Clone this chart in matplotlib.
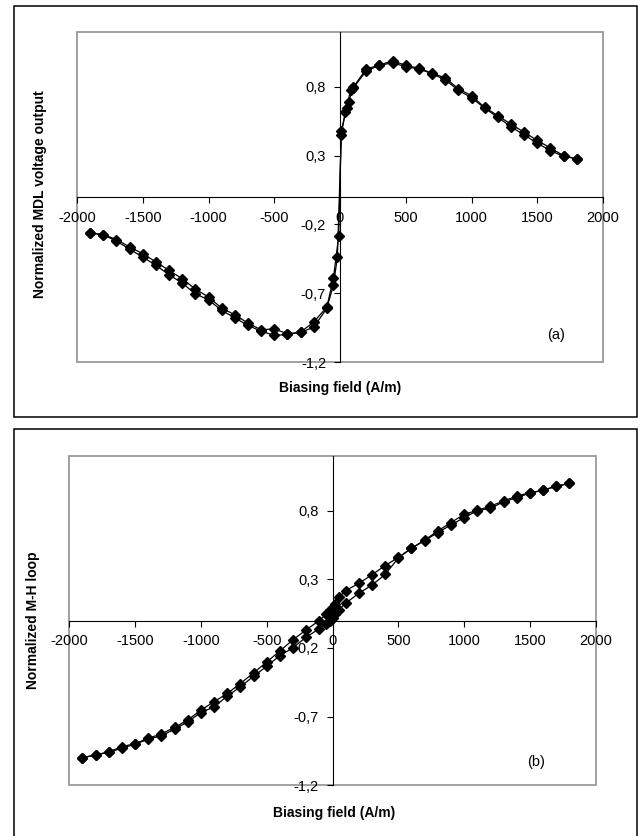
import matplotlib
matplotlib.use("Agg")
import matplotlib.pyplot as plt
from matplotlib.patches import Rectangle

plt.rcParams['font.family'] = ['Liberation Sans', 'DejaVu Sans']

# ---------------- data ----------------
neg_x = [-1900, -1800, -1700, -1600, -1500, -1400, -1300, -1200, -1100, -1000,
         -900, -800, -700, -600, -500, -400, -300, -200, -100]
pos_x = [200, 300, 400, 500, 600, 700, 800, 900, 1000, 1100, 1200, 1300,
         1400, 1500, 1600, 1700, 1800]

# (a) MDL voltage output, two branches
mdl_a_x = neg_x + [-50, -10, 10, 50, 80, 100] + pos_x
mdl_a_y = [-0.262, -0.274, -0.31, -0.364, -0.413, -0.473, -0.534, -0.595, -0.67, -0.728,
           -0.808, -0.857, -0.917, -0.966, -0.959, -0.995, -0.983, -0.91, -0.80,
           -0.59, -0.284, 0.48, 0.643, 0.776, 0.795,
           0.93, 0.957, 0.99, 0.955, 0.935, 0.898, 0.865, 0.785, 0.735, 0.65, 0.59,
           0.528, 0.47, 0.41, 0.355, 0.30, 0.276]
mdl_b_x = neg_x + [-50, -20, 10, 40, 65, 100] + pos_x
mdl_b_y = [-0.262, -0.278, -0.32, -0.381, -0.437, -0.498, -0.566, -0.626, -0.705, -0.748,
           -0.825, -0.879, -0.934, -0.976, -1.007, -1.0, -0.985, -0.947, -0.81,
           -0.64, -0.44, 0.453, 0.614, 0.69, 0.79,
           0.915, 0.955, 0.975, 0.945, 0.93, 0.895, 0.85, 0.775, 0.72, 0.645, 0.578,
           0.51, 0.45, 0.39, 0.335, 0.295, 0.276]

# (b) M-H loop, two branches
mh_x = neg_x + [-50, -20, 0, 20, 50, 100] + pos_x
mh_up_y = [-1.0, -0.978, -0.957, -0.918, -0.897, -0.857, -0.826, -0.778, -0.725, -0.652,
           -0.592, -0.531, -0.459, -0.382, -0.302, -0.222, -0.14, -0.068, 0.0,
           0.045, 0.075, 0.09, 0.12, 0.17, 0.218,
           0.27, 0.333, 0.40, 0.459, 0.527, 0.585, 0.652, 0.713, 0.773, 0.802, 0.833,
           0.87, 0.906, 0.93, 0.949, 0.978, 0.998]
mh_lo_y = [-1.0, -0.978, -0.96, -0.93, -0.9, -0.865, -0.838, -0.792, -0.737, -0.671,
           -0.628, -0.551, -0.483, -0.406, -0.333, -0.256, -0.198, -0.121, -0.06,
           -0.025, 0.0, 0.02, 0.045, 0.08, 0.126,
           0.198, 0.258, 0.335, 0.455, 0.525, 0.582, 0.64, 0.696, 0.749, 0.80, 0.816,
           0.865, 0.894, 0.928, 0.948, 0.978, 0.998]

x_ticks = [-2000, -1500, -1000, -500, 0, 500, 1000, 1500, 2000]
x_tick_labels = ['-2000', '-1500', '-1000', '-500', '0', '500', '1000', '1500', '2000']
y_ticks = [-1.2, -0.7, -0.2, 0.3, 0.8]
y_tick_labels = ['-1,2', '-0,7', '-0,2', '0,3', '0,8']

x_label = 'Biasing field (A/m)'
y_label_a = 'Normalized MDL voltage output'
y_label_b = 'Normalized M-H loop'

# ---------------- figure ----------------
W, H = 640, 836
fig = plt.figure(figsize=(W / 100, H / 100), dpi=100)


def fx(px):
    return px / W


def fy(py):
    return 1 - py / H


# outer frames
fig.patches.append(Rectangle((fx(14), fy(417)), fx(637) - fx(14), fy(6) - fy(417),
                             transform=fig.transFigure, fill=False, edgecolor='black',
                             linewidth=1.1, zorder=0))
fig.patches.append(Rectangle((fx(14), -0.02), fx(637) - fx(14), fy(429) + 0.02,
                             transform=fig.transFigure, fill=False, edgecolor='black',
                             linewidth=1.1, zorder=0))


def make_axes(rect, series, ylabel, tag, tag_pos, xlabel_pos, ylabel_pos):
    ax = fig.add_axes(rect)
    ax.set_xlim(-2000, 2000)
    ax.set_ylim(-1.2, 1.2)
    for xs, ys in series:
        ax.plot(xs, ys, color='black', linewidth=0.9, marker='D', markersize=4.6,
                markerfacecolor='black', markeredgecolor='black', clip_on=False, zorder=3)
    for s in ('top', 'right'):
        ax.spines[s].set_visible(False)
    ax.spines['left'].set_position(('data', 0))
    ax.spines['bottom'].set_position(('data', 0))
    for s in ('left', 'bottom'):
        ax.spines[s].set_color('black')
        ax.spines[s].set_linewidth(0.8)
    ax.add_patch(Rectangle((0, 0), 1, 1, transform=ax.transAxes, fill=False,
                           edgecolor='#9a9a9a', linewidth=1.3, zorder=1, clip_on=False))
    ax.set_xticks(x_ticks)
    ax.set_xticklabels(x_tick_labels)
    ax.set_yticks(y_ticks)
    ax.set_yticklabels(y_tick_labels)
    ax.tick_params(axis='x', direction='out', length=4, width=0.8, pad=6, labelsize=10.5)
    ax.tick_params(axis='y', direction='out', length=4, width=0.8, pad=6, labelsize=10.5)
    fig.text(fx(xlabel_pos[0]), fy(xlabel_pos[1]), x_label, ha='center', va='center',
             fontsize=10, fontweight='bold')
    fig.text(fx(ylabel_pos[0]), fy(ylabel_pos[1]), ylabel, ha='center', va='center',
             rotation=90, fontsize=10, fontweight='bold')
    fig.text(fx(tag_pos[0]), fy(tag_pos[1]), tag, ha='center', va='center', fontsize=10.5)
    return ax


rect_a = [fx(77), fy(362), fx(603) - fx(77), fy(31.7) - fy(362)]
rect_b = [fx(69.3), fy(785.3), fx(595.7) - fx(69.3), fy(455.7) - fy(785.3)]

make_axes(rect_a, [(mdl_a_x, mdl_a_y), (mdl_b_x, mdl_b_y)], y_label_a, '(a)',
          (556, 335), (340, 387.7), (39.7, 194))
make_axes(rect_b, [(mh_x, mh_up_y), (mh_x, mh_lo_y)], y_label_b, '(b)',
          (536.4, 761.7), (333.7, 813), (32.8, 620))

fig.savefig('out.png', dpi=100)
